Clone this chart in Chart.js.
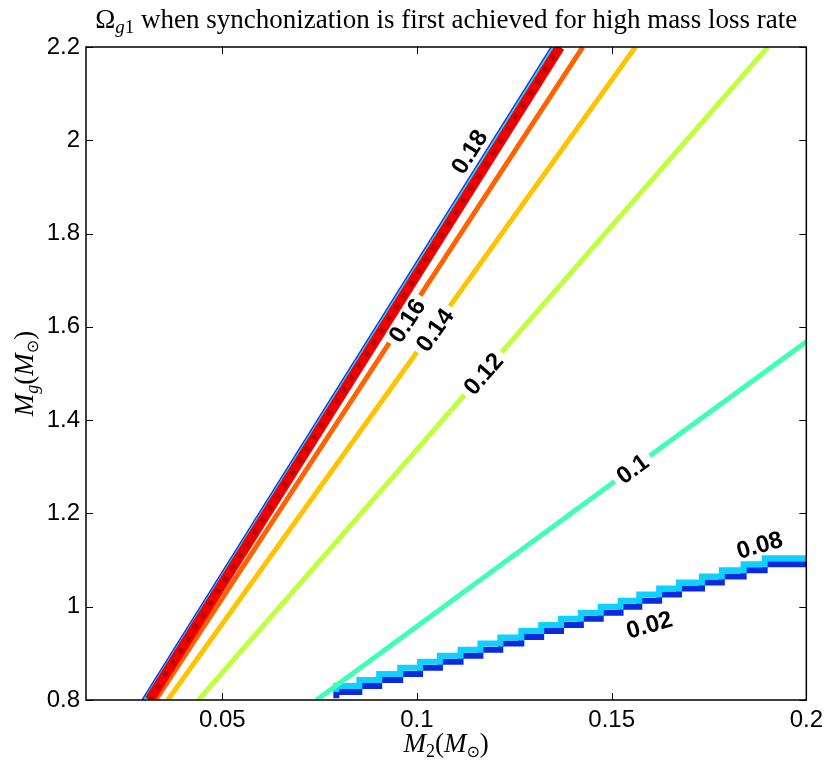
<!DOCTYPE html>
<html>
<head>
<meta charset="utf-8">
<script src="https://cdn.jsdelivr.net/npm/chart.js@4.4.0/dist/chart.umd.min.js"></script>
<style>
  html, body { margin: 0; padding: 0; background: #fff; }
</style>
</head>
<body>
<canvas id="chart" width="829" height="765"></canvas>
<script>
const xTicks = [0.05, 0.1, 0.15, 0.2];
const yTicks = [0.8, 1, 1.2, 1.4, 1.6, 1.8, 2, 2.2];

// contour lines, M2 on x and Mg on y
const fringeX = [0.0296, 0.1347];
const fringeY = [0.8, 2.2];
const lvl18X = [0.0313, 0.1367];
const lvl18Y = [0.8, 2.2];
const lvl16X = [0.0329, 0.1426];
const lvl16Y = [0.8, 2.2];
const lvl14X = [0.0360, 0.1561];
const lvl14Y = [0.8, 2.2];
const lvl12X = [0.0439, 0.1901];
const lvl12Y = [0.8, 2.2];
const lvl10X = [0.0742, 0.1554, 0.2];
const lvl10Y = [0.8, 1.297, 1.568];

// the two stair-stepped low contours
const stepX = [0.0793, 0.0852, 0.0903, 0.0957, 0.1008, 0.1059, 0.1112, 0.1163, 0.1214, 0.1268, 0.1319, 0.1370,
               0.1421, 0.1472, 0.1523, 0.1571, 0.1622, 0.1673, 0.1732, 0.1783, 0.1839, 0.1893, 0.1954, 0.2];
const lvl08Y = [0.817, 0.830, 0.843, 0.856, 0.869, 0.882, 0.895, 0.908, 0.921, 0.934, 0.948, 0.961,
                0.974, 0.987, 1.000, 1.013, 1.026, 1.039, 1.052, 1.065, 1.078, 1.091, 1.104, 1.104];
const lvl02Y = [0.804, 0.817, 0.830, 0.843, 0.856, 0.869, 0.882, 0.895, 0.908, 0.921, 0.935, 0.948,
                0.961, 0.974, 0.987, 1.000, 1.013, 1.026, 1.039, 1.052, 1.065, 1.078, 1.091, 1.091];

// inline contour labels
const labelText = ['0.18', '0.16', '0.14', '0.12', '0.1', '0.08', '0.02'];
const labelX = [0.1135, 0.0975, 0.1046, 0.1171, 0.1554, 0.1880, 0.1597];
const labelY = [1.975, 1.613, 1.593, 1.499, 1.295, 1.132, 0.961];
const gapLabels = ['0.16', '0.14', '0.12', '0.1'];

const SERIF = '"Liberation Serif", "DejaVu Serif", serif';
const SANS = '"Liberation Sans", Arial, sans-serif';

function pts(xs, ys) {
    return xs.map((x, i) => ({ x: x, y: ys[i] }));
}

function line(label, xs, ys, color, width, order, extra) {
    return Object.assign({
        label: label,
        data: pts(xs, ys),
        showLine: true,
        borderColor: color,
        borderWidth: width,
        pointRadius: 0,
        fill: false,
        clip: 0,
        order: order,
    }, extra || {});
}

// draws a row of text pieces (for subscripts) centred on cx
function drawParts(ctx, parts, cx, baseY) {
    let total = 0;
    parts.forEach(p => { ctx.font = p.f; p.w = ctx.measureText(p.t).width; total += p.w; });
    let x = cx - total / 2;
    parts.forEach(p => {
        ctx.font = p.f;
        ctx.fillText(p.t, x, baseY + (p.dy || 0));
        x += p.w;
    });
}

const framePlugin = {
    id: 'frame',
    afterDatasetsDraw(chart) {
        const { ctx, chartArea: a, scales: { x, y } } = chart;
        ctx.save();
        ctx.strokeStyle = '#000';
        ctx.lineWidth = 1.5;
        ctx.strokeRect(a.left, a.top, a.right - a.left, a.bottom - a.top);
        ctx.lineWidth = 1;
        ctx.beginPath();
        xTicks.forEach(v => {
            const px = Math.round(x.getPixelForValue(v)) + 0.5;
            ctx.moveTo(px, a.bottom); ctx.lineTo(px, a.bottom - 7);
            ctx.moveTo(px, a.top); ctx.lineTo(px, a.top + 7);
        });
        yTicks.forEach(v => {
            const py = Math.round(y.getPixelForValue(v)) + 0.5;
            ctx.moveTo(a.left, py); ctx.lineTo(a.left + 7, py);
            ctx.moveTo(a.right, py); ctx.lineTo(a.right - 7, py);
        });
        ctx.stroke();
        ctx.restore();
    }
};

const labelPlugin = {
    id: 'contourLabels',
    afterDatasetsDraw(chart) {
        const { ctx, scales: { x, y } } = chart;
        ctx.save();
        ctx.font = 'bold 24px ' + SANS;
        ctx.textAlign = 'center';
        ctx.textBaseline = 'middle';
        labelText.forEach((t, i) => {
            const d = chart.data.datasets.find(ds => ds.label === t).data;
            const p0 = d[0], p1 = d[d.length - 1];
            const ang = Math.atan2(y.getPixelForValue(p1.y) - y.getPixelForValue(p0.y),
                                   x.getPixelForValue(p1.x) - x.getPixelForValue(p0.x));
            ctx.save();
            ctx.translate(x.getPixelForValue(labelX[i]), y.getPixelForValue(labelY[i]));
            ctx.rotate(ang);
            const w = ctx.measureText(t).width;
            if (gapLabels.includes(t)) {
                ctx.fillStyle = '#fff';
                ctx.fillRect(-w / 2 - 5, -7, w + 10, 14);
            }
            ctx.fillStyle = '#000';
            ctx.fillText(t, 0, 1);
            ctx.restore();
        });
        ctx.restore();
    }
};

const textPlugin = {
    id: 'titles',
    afterDraw(chart) {
        const { ctx, chartArea: a } = chart;
        const cx = (a.left + a.right) / 2;
        ctx.save();
        ctx.fillStyle = '#000';
        ctx.textAlign = 'left';
        ctx.textBaseline = 'alphabetic';
        drawParts(ctx, [
            { t: 'Ω', f: '27px ' + SERIF },
            { t: 'g', f: 'italic 19px ' + SERIF, dy: 5 },
            { t: '1', f: '19px ' + SERIF, dy: 5 },
            { t: ' when synchonization is first achieved for high mass loss rate', f: '27px ' + SERIF },
        ], cx, 28);
        const mAxis = (sub) => [
            { t: 'M', f: 'italic 27px ' + SERIF },
            sub,
            { t: '(', f: '27px ' + SERIF },
            { t: 'M', f: 'italic 27px ' + SERIF },
            { t: '⊙', f: '16px "DejaVu Sans", sans-serif', dy: 5 },
            { t: ')', f: '27px ' + SERIF },
        ];
        drawParts(ctx, mAxis({ t: '2', f: '18px ' + SERIF, dy: 5 }), cx, 752);
        ctx.translate(33, (a.top + a.bottom) / 2);
        ctx.rotate(-Math.PI / 2);
        drawParts(ctx, mAxis({ t: 'g', f: 'italic 18px ' + SERIF, dy: 5 }), 0, 0);
        ctx.restore();
    }
};

const datasets = [
    line('0.18', lvl18X, lvl18Y, '#f20000', 10, 3),
    line('core18', lvl18X, lvl18Y, '#b80000', 5, 2, { borderDash: [5, 9] }),
    line('fringe-cyan', fringeX.map(v => v + 0.0004), fringeY, '#22d8ff', 3, 4),
    line('fringe', fringeX, fringeY, '#1030e8', 3, 5),
    line('0.16', lvl16X, lvl16Y, '#ff6200', 5, 6),
    line('0.14', lvl14X, lvl14Y, '#ffc400', 5, 7),
    line('0.12', lvl12X, lvl12Y, '#bfff3f', 5, 8),
    line('0.1', lvl10X, lvl10Y, '#40ffb4', 5, 9),
    line('0.08', stepX, lvl08Y, '#10d0ff', 6, 10, { stepped: 'after' }),
    line('0.02', stepX, lvl02Y, '#0a2ae0', 6, 11, { stepped: 'after' }),
];

new Chart(document.getElementById('chart'), {
    type: 'scatter',
    data: { datasets: datasets },
    options: {
        responsive: false,
        animation: false,
        layout: { padding: { top: 47, right: 21, left: 0, bottom: 0 } },
        plugins: { legend: { display: false }, tooltip: { enabled: false } },
        scales: {
            x: {
                type: 'linear',
                min: 0.015,
                max: 0.2,
                afterBuildTicks: s => { s.ticks = xTicks.map(v => ({ value: v })); },
                afterFit: s => { s.height = 65; },
                grid: { display: false, drawTicks: false },
                border: { display: false },
                ticks: {
                    autoSkip: false, maxRotation: 0, padding: 6, color: '#000',
                    font: { family: SANS, size: 24 },
                    callback: v => String(v),
                },
            },
            y: {
                type: 'linear',
                min: 0.8,
                max: 2.2,
                afterBuildTicks: s => { s.ticks = yTicks.map(v => ({ value: v })); },
                afterFit: s => { s.width = 86; },
                grid: { display: false, drawTicks: false },
                border: { display: false },
                ticks: {
                    autoSkip: false, padding: 6, color: '#000',
                    font: { family: SANS, size: 24 },
                    callback: v => String(v),
                },
            },
        },
    },
    plugins: [framePlugin, labelPlugin, textPlugin],
});
</script>
</body>
</html>
